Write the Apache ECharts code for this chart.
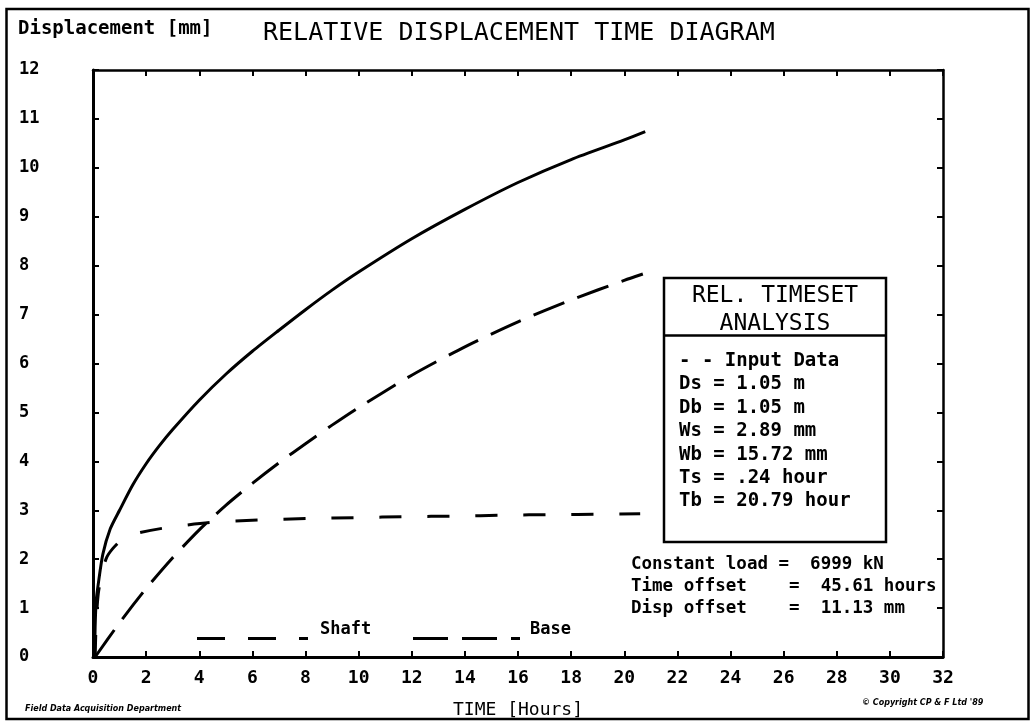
<!DOCTYPE html>
<html>
<head>
<meta charset="utf-8">
<script src="https://cdn.jsdelivr.net/npm/echarts@6/dist/echarts.min.js"></script>
<style>
html,body{margin:0;padding:0;background:#fff;}
#chart{width:1036px;height:724px;}
</style>
</head>
<body>
<div id="chart"></div>
<script>
// ---- data ----
const xTicks = [0, 32, 2];          // min, max, interval (hours)
const yTicks = [0, 12, 1];          // min, max, interval (mm)

const totalTime = [0.06, 0.08, 0.12, 0.2, 0.37, 0.65, 1, 1.5, 2, 2.5, 3, 4, 5, 6, 7, 8, 9, 10, 12, 14, 16, 18, 20, 20.79];
const totalDisp = [0, 0.6, 1.15, 1.5, 2.1, 2.62, 3.0, 3.52, 3.95, 4.32, 4.65, 5.25, 5.78, 6.25, 6.68, 7.1, 7.5, 7.87, 8.55, 9.15, 9.7, 10.17, 10.57, 10.74];

const shaftTime = [0.08, 0.12, 0.2, 0.35, 0.52, 0.75, 1.05, 1.6, 2.6, 4.41, 6.25, 8.09, 9.96, 11.8, 13.65, 15.53, 17.3, 19.18, 20.6];
const shaftDisp = [0, 0.7, 1.3, 1.75, 2.04, 2.22, 2.38, 2.52, 2.63, 2.75, 2.8, 2.83, 2.85, 2.87, 2.88, 2.9, 2.91, 2.92, 2.93];

const baseTime = [0.08, 1, 2, 3, 4, 5, 6, 7, 8, 9, 10, 12, 14, 16, 18, 20, 20.7];
const baseDisp = [0, 0.7, 1.4, 2.03, 2.6, 3.1, 3.55, 3.97, 4.36, 4.74, 5.1, 5.76, 6.34, 6.85, 7.3, 7.7, 7.83];

const titleText = 'RELATIVE DISPLACEMENT TIME DIAGRAM';
const yName = 'Displacement [mm]';
const xName = 'TIME [Hours]';
const boxTitle = ['REL. TIMESET', 'ANALYSIS'];
const boxLines = ['- - Input Data', 'Ds = 1.05 m', 'Db = 1.05 m', 'Ws = 2.89 mm', 'Wb = 15.72 mm', 'Ts = .24 hour', 'Tb = 20.79 hour'];
const infoLines = ['Constant load =  6999 kN', 'Time offset    =  45.61 hours', 'Disp offset    =  11.13 mm'];
const legendNames = ['Shaft', 'Base'];
const footLeft = 'Field Data Acquisition Department';
const footRight = '\u00A9 Copyright CP & F Ltd \'89';

// ---- build ----
const zip = (a, b) => a.map((v, i) => [v, b[i]]);
const MONO = '"DejaVu Sans Mono", "Liberation Mono", monospace';
const chart = echarts.init(document.getElementById('chart'), null, {renderer: 'canvas'});

const tickStyle = {inside: true, length: 6, lineStyle: {color: '#000', width: 2}};

const gfx = [];
gfx.push({type: 'rect', shape: {x: 6.5, y: 9, width: 1022, height: 710}, style: {fill: 'none', stroke: '#000', lineWidth: 2.5}, silent: true});
// info box
gfx.push({type: 'rect', shape: {x: 664, y: 278, width: 222, height: 264}, style: {fill: '#fff', stroke: '#000', lineWidth: 2.5}, silent: true, z: 10});
gfx.push({type: 'line', shape: {x1: 664, y1: 335.5, x2: 886, y2: 335.5}, style: {stroke: '#000', lineWidth: 2.5}, silent: true, z: 11});
boxTitle.forEach((t, i) => gfx.push({type: 'text', z: 12, style: {text: t, x: 775, y: 296 + i * 28.5, font: '23px ' + MONO, fill: '#000', textAlign: 'center', textVerticalAlign: 'middle'}}));
boxLines.forEach((t, i) => gfx.push({type: 'text', z: 12, style: {text: t, x: 679, y: 361 + i * 23.4, font: 'bold 19px ' + MONO, fill: '#000', textAlign: 'left', textVerticalAlign: 'middle'}}));
infoLines.forEach((t, i) => gfx.push({type: 'text', z: 12, style: {text: t, x: 631, y: 564 + i * 22, font: 'bold 17.5px ' + MONO, fill: '#000', textAlign: 'left', textVerticalAlign: 'middle'}}));
// legend samples
gfx.push({type: 'line', shape: {x1: 197, y1: 638.5, x2: 308, y2: 638.5}, style: {stroke: '#000', lineWidth: 3, lineDash: [28, 23]}, silent: true});
gfx.push({type: 'text', style: {text: legendNames[0], x: 320, y: 630, font: 'bold 17px ' + MONO, fill: '#000', textAlign: 'left', textVerticalAlign: 'middle'}});
gfx.push({type: 'line', shape: {x1: 413, y1: 638.5, x2: 520, y2: 638.5}, style: {stroke: '#000', lineWidth: 3, lineDash: [35, 14]}, silent: true});
gfx.push({type: 'text', style: {text: legendNames[1], x: 530, y: 630, font: 'bold 17px ' + MONO, fill: '#000', textAlign: 'left', textVerticalAlign: 'middle'}});
// footnotes
gfx.push({type: 'text', style: {text: footLeft, x: 25, y: 709, font: 'italic bold 8px "DejaVu Sans"', fill: '#000', textAlign: 'left', textVerticalAlign: 'middle'}});
gfx.push({type: 'text', style: {text: footRight, x: 862, y: 703, font: 'italic bold 8px "DejaVu Sans"', fill: '#000', textAlign: 'left', textVerticalAlign: 'middle'}});
// axis title (y)
gfx.push({type: 'text', style: {text: yName, x: 18, y: 29, font: 'bold 19px ' + MONO, fill: '#000', textAlign: 'left', textVerticalAlign: 'middle'}});

function axisBase(pos, width) {
  return {axisLine: {show: true, onZero: false, lineStyle: {color: '#000', width: width}},
          axisTick: tickStyle, splitLine: {show: false}, position: pos};
}

const option = {
  backgroundColor: '#fff',
  animation: false,
  title: {text: titleText, left: 258, top: 16, textStyle: {fontFamily: MONO, fontSize: 25, fontWeight: 'normal', color: '#000'}},
  grid: {left: 93, right: 93, top: 70, bottom: 64, containLabel: false},
  xAxis: [
    Object.assign(axisBase('bottom', 3), {type: 'value', min: xTicks[0], max: xTicks[1], interval: xTicks[2],
     axisLabel: {margin: 12, color: '#000', fontFamily: MONO, fontWeight: 'bold', fontSize: 18},
     name: xName, nameLocation: 'middle', nameGap: 44,
     nameTextStyle: {color: '#000', fontFamily: MONO, fontSize: 18}}),
    Object.assign(axisBase('top', 2.5), {type: 'value', min: xTicks[0], max: xTicks[1], interval: xTicks[2],
     axisLabel: {show: false}})
  ],
  yAxis: [
    Object.assign(axisBase('left', 3), {type: 'value', min: yTicks[0], max: yTicks[1], interval: yTicks[2],
     axisLabel: {margin: 74, align: 'left', color: '#000', fontFamily: MONO, fontWeight: 'bold', fontSize: 17}}),
    Object.assign(axisBase('right', 2.5), {type: 'value', min: yTicks[0], max: yTicks[1], interval: yTicks[2],
     axisLabel: {show: false}})
  ],
  series: [
    {name: 'Total', type: 'line', data: zip(totalTime, totalDisp), smooth: 0.25, showSymbol: false,
     lineStyle: {color: '#000', width: 3, type: 'solid'}},
    {name: legendNames[0], type: 'line', data: zip(shaftTime, shaftDisp), smooth: 0.25, showSymbol: false,
     lineStyle: {color: '#000', width: 3, type: [22, 26]}},
    {name: legendNames[1], type: 'line', data: zip(baseTime, baseDisp), smooth: 0.25, showSymbol: false,
     lineStyle: {color: '#000', width: 3, type: [33, 14]}}
  ],
  graphic: gfx
};
chart.setOption(option);
</script>
</body>
</html>
